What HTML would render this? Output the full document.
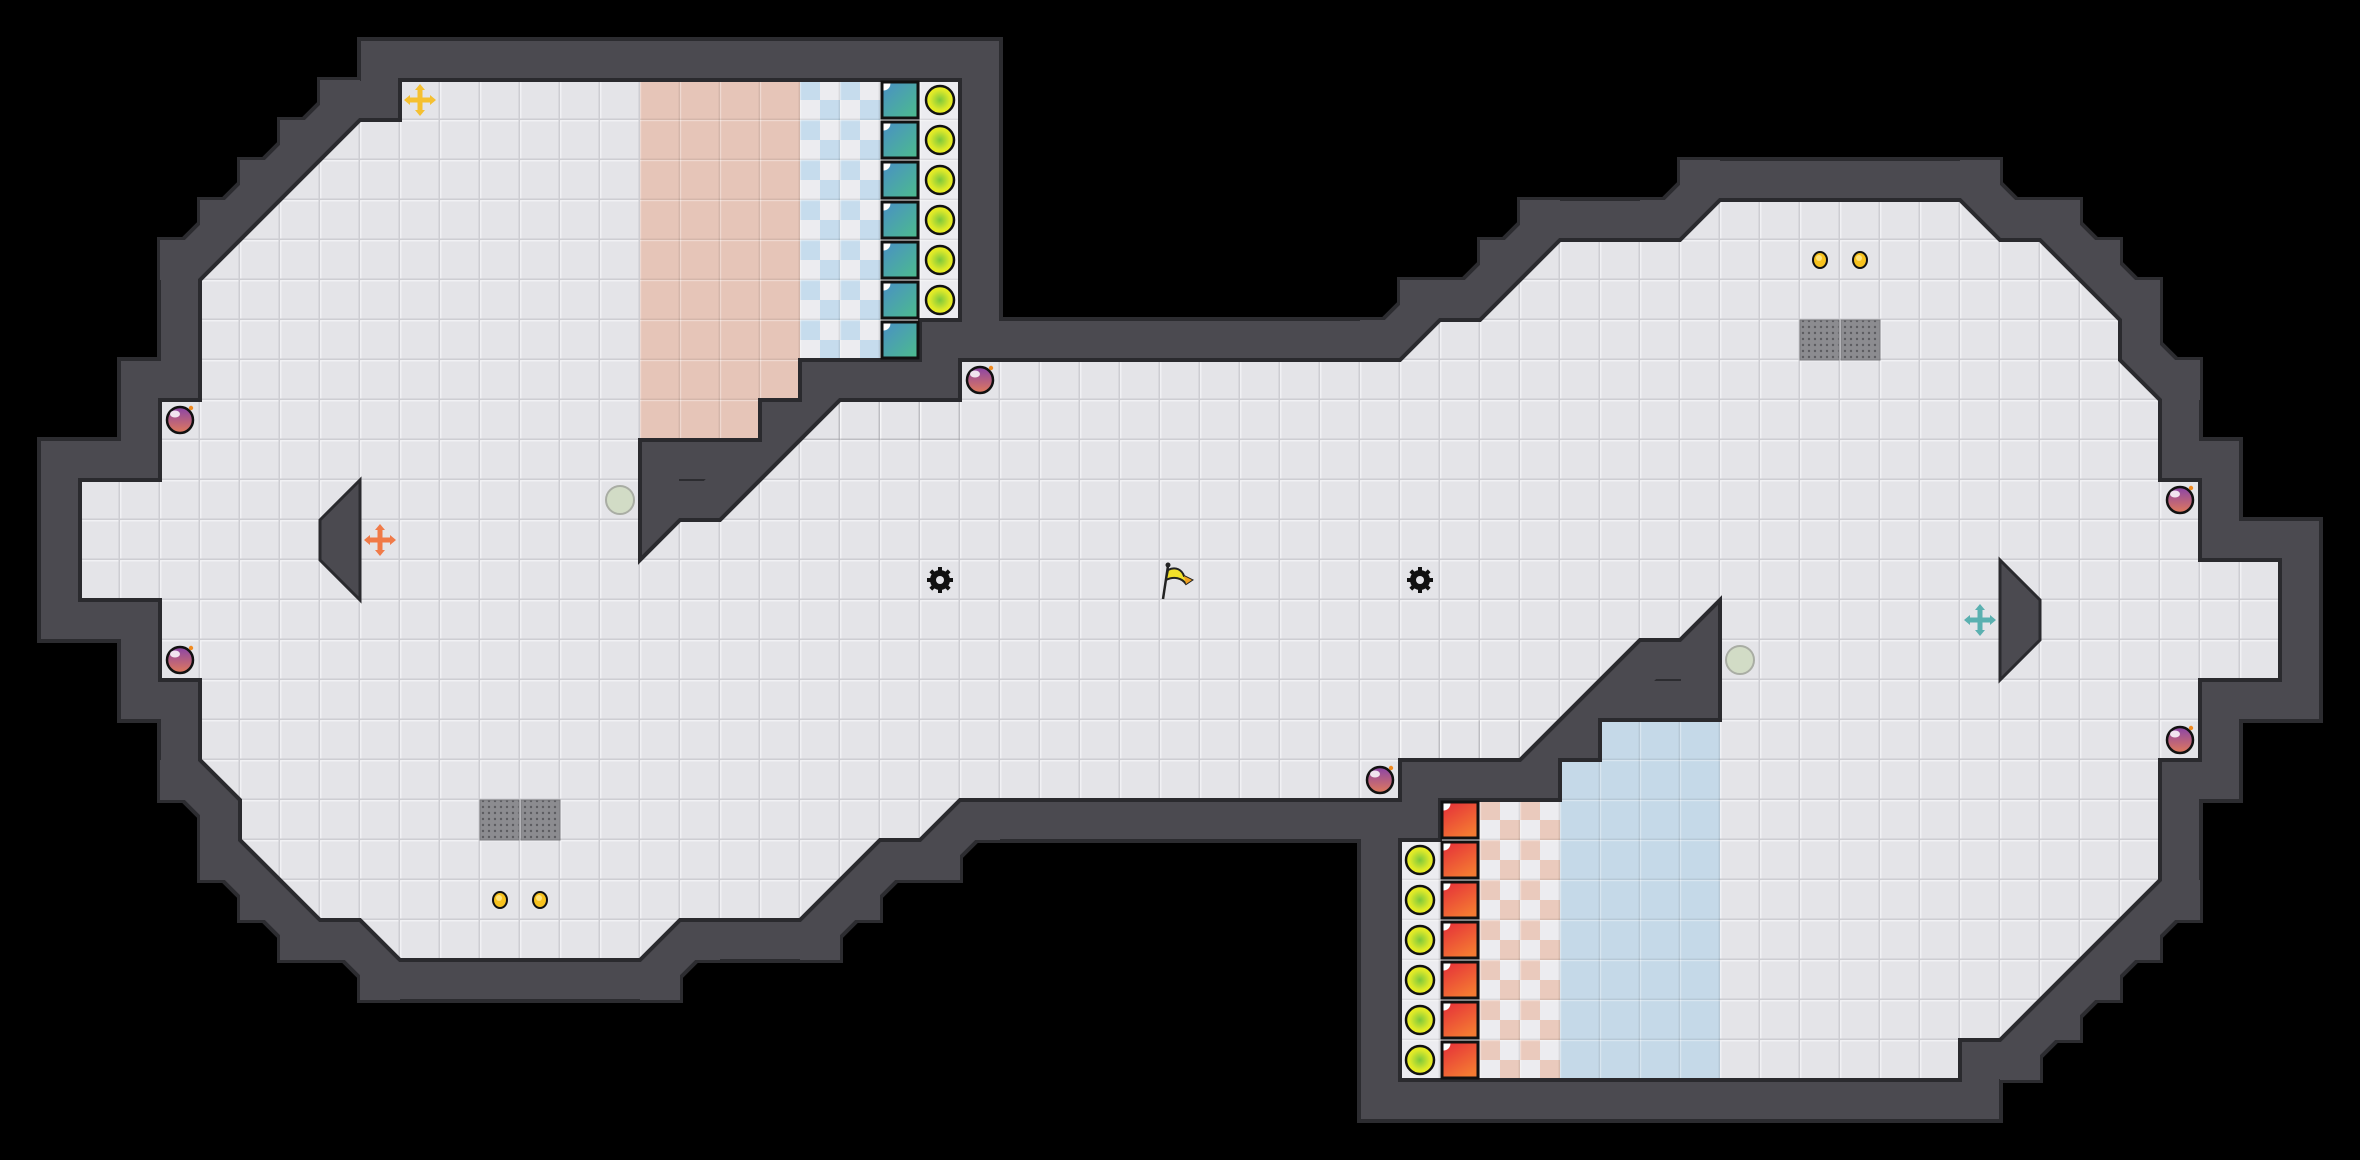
<!DOCTYPE html>
<html><head><meta charset="utf-8"><style>
html,body{margin:0;padding:0;background:#000;}
svg{display:block;}
</style></head><body>
<svg width="2360" height="1160" viewBox="0 0 2360 1160" xmlns="http://www.w3.org/2000/svg">
<defs>
<polygon id="fl" points="400,80 960,80 960,320 920,320 920,360 800,360 800,400 760,400 760,440 640,440 640,560 680,520 720,520 840,400 960,400 960,360 1400,360 1440,320 1480,320 1560,240 1680,240 1720,200 1960,200 2000,240 2040,240 2120,320 2120,360 2160,400 2160,480 2200,480 2200,560 2280,560 2280,680 2200,680 2200,760 2160,760 2160,880 2000,1040 1960,1040 1960,1080 1400,1080 1400,840 1440,840 1440,800 1560,800 1560,760 1600,760 1600,720 1720,720 1720,600 1680,640 1640,640 1520,760 1400,760 1400,800 960,800 920,840 880,840 800,920 680,920 640,960 400,960 360,920 320,920 240,840 240,800 200,760 200,680 160,680 160,600 80,600 80,480 160,480 160,400 200,400 200,280 360,120 400,120"/>
<clipPath id="fc"><use href="#fl"/></clipPath>
<pattern id="tile" width="40" height="40" patternUnits="userSpaceOnUse">
<rect width="40" height="40" fill="#e4e4e8"/>
<rect x="0" y="0" width="40" height="1.5" fill="#f1f1f4"/>
<rect x="0" y="0" width="1.5" height="40" fill="#f1f1f4"/>
<rect x="0" y="38.5" width="40" height="1.5" fill="#cdcdd2"/>
<rect x="38.5" y="0" width="1.5" height="40" fill="#cdcdd2"/>
</pattern>
<pattern id="grid" width="40" height="40" patternUnits="userSpaceOnUse">
<rect x="0" y="0" width="40" height="1.2" fill="#ffffff" opacity="0.35"/>
<rect x="0" y="0" width="1.2" height="40" fill="#ffffff" opacity="0.35"/>
<rect x="0" y="38.6" width="40" height="1.4" fill="#000" opacity="0.08"/>
<rect x="38.6" y="0" width="1.4" height="40" fill="#000" opacity="0.08"/>
</pattern>
<pattern id="chkB" width="40" height="40" patternUnits="userSpaceOnUse">
<rect width="40" height="40" fill="#ececf0"/>
<rect x="0" y="0" width="20" height="20" fill="#c6dced"/>
<rect x="20" y="20" width="20" height="20" fill="#c6dced"/>
</pattern>
<pattern id="chkR" width="40" height="40" patternUnits="userSpaceOnUse">
<rect width="40" height="40" fill="#ececf0"/>
<rect x="0" y="0" width="20" height="20" fill="#eacabd"/>
<rect x="20" y="20" width="20" height="20" fill="#eacabd"/>
</pattern>
<pattern id="grate" width="6" height="6" patternUnits="userSpaceOnUse">
<rect width="6" height="6" fill="#8c8c90"/>
<circle cx="3" cy="3" r="1.2" fill="#5c5c60"/>
</pattern>
<linearGradient id="teal" x1="0" y1="0" x2="1" y2="1">
<stop offset="0" stop-color="#4a8fc6"/><stop offset="1" stop-color="#4cbc8c"/>
</linearGradient>
<linearGradient id="red" x1="0" y1="0" x2="0.6" y2="1">
<stop offset="0" stop-color="#e42c3a"/><stop offset="1" stop-color="#f47a32"/>
</linearGradient>
<radialGradient id="yel">
<stop offset="0" stop-color="#7cc83c"/><stop offset="0.7" stop-color="#dce82a"/><stop offset="1" stop-color="#eef01c"/>
</radialGradient>
<linearGradient id="bomb" x1="0" y1="0" x2="0" y2="1">
<stop offset="0" stop-color="#8a44a8"/><stop offset="1" stop-color="#e07a5a"/>
</linearGradient>
<g id="bm">
<circle r="13" fill="url(#bomb)" stroke="#111" stroke-width="2.5"/>
<ellipse cx="-5" cy="-6" rx="5" ry="3.5" fill="#fff" opacity="0.85"/>
<circle cx="11" cy="-12" r="2.2" fill="#f08a20"/>
</g>
<g id="yc"><circle r="14" fill="url(#yel)" stroke="#111" stroke-width="2.5"/></g>
<g id="ts"><rect x="-18" y="-18" width="36" height="36" fill="url(#teal)" stroke="#111" stroke-width="3"/><path d="M-16.5,-16.5 h7 a7,7 0 0 1 -7,7 z" fill="#fff"/></g>
<g id="rs"><rect x="-18" y="-18" width="36" height="36" fill="url(#red)" stroke="#111" stroke-width="3"/><path d="M-16.5,-16.5 h7 a7,7 0 0 1 -7,7 z" fill="#fff"/></g>
<g id="gear">
<circle r="10" fill="#111"/>
<g stroke="#111" stroke-width="4">
<line x1="0" y1="-13" x2="0" y2="13"/><line x1="-13" y1="0" x2="13" y2="0"/>
<line x1="-9.2" y1="-9.2" x2="9.2" y2="9.2"/><line x1="-9.2" y1="9.2" x2="9.2" y2="-9.2"/>
</g>
<circle r="4" fill="#e4e4e8"/>
</g>
<g id="coin"><ellipse rx="7" ry="8" fill="#f7c21e" stroke="#111" stroke-width="2"/><ellipse cx="-1" cy="-2" rx="3" ry="3" fill="#ffe27a"/></g>
</defs>
<rect width="2360" height="1160" fill="#000"/>
<use href="#fl" fill="none" stroke="#2c2c30" stroke-width="86" stroke-linejoin="miter" stroke-miterlimit="10"/>
<g fill="#2c2c30" transform="translate(-3,-3)">
<rect x="160" y="240" width="46" height="46"/><rect x="200" y="200" width="46" height="46"/><rect x="240" y="160" width="46" height="46"/><rect x="280" y="120" width="46" height="46"/><rect x="320" y="80" width="46" height="46"/>
<rect x="160" y="760" width="46" height="46"/><rect x="200" y="800" width="46" height="46"/><rect x="200" y="840" width="46" height="46"/><rect x="240" y="880" width="46" height="46"/><rect x="280" y="920" width="46" height="46"/><rect x="320" y="920" width="46" height="46"/><rect x="360" y="960" width="46" height="46"/>
<rect x="680" y="920" width="46" height="46"/><rect x="640" y="960" width="46" height="46"/><rect x="840" y="880" width="46" height="46"/><rect x="800" y="920" width="46" height="46"/><rect x="880" y="840" width="46" height="46"/><rect x="960" y="800" width="46" height="46"/><rect x="920" y="840" width="46" height="46"/>
<rect x="1360" y="320" width="46" height="46"/><rect x="1400" y="280" width="46" height="46"/><rect x="1440" y="280" width="46" height="46"/><rect x="1480" y="240" width="46" height="46"/><rect x="1520" y="200" width="46" height="46"/><rect x="1640" y="200" width="46" height="46"/><rect x="1680" y="160" width="46" height="46"/>
<rect x="2000" y="200" width="46" height="46"/><rect x="1960" y="160" width="46" height="46"/><rect x="2080" y="240" width="46" height="46"/><rect x="2040" y="200" width="46" height="46"/><rect x="2120" y="280" width="46" height="46"/><rect x="2160" y="360" width="46" height="46"/><rect x="2120" y="320" width="46" height="46"/>
<rect x="2160" y="880" width="46" height="46"/><rect x="2120" y="920" width="46" height="46"/><rect x="2080" y="960" width="46" height="46"/><rect x="2040" y="1000" width="46" height="46"/><rect x="2000" y="1040" width="46" height="46"/>
</g>
<use href="#fl" fill="none" stroke="#4b4a50" stroke-width="78" stroke-linejoin="miter" stroke-miterlimit="10"/>
<g fill="#4b4a50">
<rect x="160" y="240" width="40" height="40"/><rect x="200" y="200" width="40" height="40"/><rect x="240" y="160" width="40" height="40"/><rect x="280" y="120" width="40" height="40"/><rect x="320" y="80" width="40" height="40"/>
<rect x="160" y="760" width="40" height="40"/><rect x="200" y="800" width="40" height="40"/><rect x="200" y="840" width="40" height="40"/><rect x="240" y="880" width="40" height="40"/><rect x="280" y="920" width="40" height="40"/><rect x="320" y="920" width="40" height="40"/><rect x="360" y="960" width="40" height="40"/>
<rect x="680" y="920" width="40" height="40"/><rect x="640" y="960" width="40" height="40"/><rect x="840" y="880" width="40" height="40"/><rect x="800" y="920" width="40" height="40"/><rect x="880" y="840" width="40" height="40"/><rect x="960" y="800" width="40" height="40"/><rect x="920" y="840" width="40" height="40"/>
<rect x="1360" y="320" width="40" height="40"/><rect x="1400" y="280" width="40" height="40"/><rect x="1440" y="280" width="40" height="40"/><rect x="1480" y="240" width="40" height="40"/><rect x="1520" y="200" width="40" height="40"/><rect x="1640" y="200" width="40" height="40"/><rect x="1680" y="160" width="40" height="40"/>
<rect x="2000" y="200" width="40" height="40"/><rect x="1960" y="160" width="40" height="40"/><rect x="2080" y="240" width="40" height="40"/><rect x="2040" y="200" width="40" height="40"/><rect x="2120" y="280" width="40" height="40"/><rect x="2160" y="360" width="40" height="40"/><rect x="2120" y="320" width="40" height="40"/>
<rect x="2160" y="880" width="40" height="40"/><rect x="2120" y="920" width="40" height="40"/><rect x="2080" y="960" width="40" height="40"/><rect x="2040" y="1000" width="40" height="40"/><rect x="2000" y="1040" width="40" height="40"/>
</g>
<use href="#fl" fill="url(#tile)" stroke="none"/>
<g clip-path="url(#fc)">
<rect x="640" y="80" width="160" height="320" fill="#e6c5b8"/>
<rect x="640" y="400" width="120" height="40" fill="#e6c5b8"/>
<rect x="800" y="80" width="80" height="280" fill="url(#chkB)"/>
<rect x="880" y="80" width="80" height="280" fill="#ececf0"/>
<rect x="640" y="80" width="320" height="360" fill="url(#grid)"/>
<rect x="1480" y="800" width="80" height="280" fill="url(#chkR)"/>
<rect x="1400" y="840" width="80" height="240" fill="#ececf0"/>
<rect x="1440" y="800" width="40" height="40" fill="#ececf0"/>
<rect x="1560" y="760" width="40" height="320" fill="#c5d9e8"/>
<rect x="1600" y="720" width="120" height="360" fill="#c5d9e8"/>
<rect x="1400" y="720" width="320" height="360" fill="url(#grid)"/>
</g>
<use href="#fl" fill="none" stroke="#2a2a2e" stroke-width="4" stroke-linejoin="miter" stroke-miterlimit="10"/>
<polygon points="320,520 360,480 360,600 320,560" fill="#4b4a50" stroke="#2a2a2e" stroke-width="3"/>
<polygon points="2000,560 2040,600 2040,640 2000,680" fill="#4b4a50" stroke="#2a2a2e" stroke-width="3"/>
<use href="#ts" x="900" y="100"/><use href="#ts" x="900" y="140"/><use href="#ts" x="900" y="180"/><use href="#ts" x="900" y="220"/><use href="#ts" x="900" y="260"/><use href="#ts" x="900" y="300"/><use href="#ts" x="900" y="340"/>
<use href="#yc" x="940" y="100"/><use href="#yc" x="940" y="140"/><use href="#yc" x="940" y="180"/><use href="#yc" x="940" y="220"/><use href="#yc" x="940" y="260"/><use href="#yc" x="940" y="300"/>
<use href="#rs" x="1460" y="820"/><use href="#rs" x="1460" y="860"/><use href="#rs" x="1460" y="900"/><use href="#rs" x="1460" y="940"/><use href="#rs" x="1460" y="980"/><use href="#rs" x="1460" y="1020"/><use href="#rs" x="1460" y="1060"/>
<use href="#yc" x="1420" y="860"/><use href="#yc" x="1420" y="900"/><use href="#yc" x="1420" y="940"/><use href="#yc" x="1420" y="980"/><use href="#yc" x="1420" y="1020"/><use href="#yc" x="1420" y="1060"/>
<use href="#bm" x="180" y="420"/><use href="#bm" x="180" y="660"/><use href="#bm" x="980" y="380"/><use href="#bm" x="1380" y="780"/><use href="#bm" x="2180" y="500"/><use href="#bm" x="2180" y="740"/>
<circle cx="620" cy="500" r="14" fill="#d2dcc6" stroke="#a9ada4" stroke-width="2"/>
<circle cx="1740" cy="660" r="14" fill="#d2dcc6" stroke="#a9ada4" stroke-width="2"/>
<use href="#gear" x="940" y="580"/><use href="#gear" x="1420" y="580"/>
<g transform="translate(1180,580)">
<line x1="-17" y1="19" x2="-12" y2="-14" stroke="#222" stroke-width="2.5"/>
<circle cx="-12" cy="-15" r="2.5" fill="#222"/>
<path d="M-12,-10 C-4,-14 2,-10 4,-4 L12,0 L6,4 C2,-2 -6,-4 -14,0 Z" fill="#f2e02a" stroke="#222" stroke-width="2"/>
<path d="M4,-4 L12,0 L6,4 Z" fill="#f0a020"/>
</g>
<rect x="480" y="800" width="39" height="40" fill="url(#grate)" stroke="#77777b"/>
<rect x="521" y="800" width="39" height="40" fill="url(#grate)" stroke="#77777b"/>
<rect x="1800" y="320" width="39" height="40" fill="url(#grate)" stroke="#77777b"/>
<rect x="1841" y="320" width="39" height="40" fill="url(#grate)" stroke="#77777b"/>
<use href="#coin" x="500" y="900"/><use href="#coin" x="540" y="900"/>
<use href="#coin" x="1820" y="260"/><use href="#coin" x="1860" y="260"/>
<g transform="translate(420,100)" fill="#f5c030">
<rect x="-12" y="-2.5" width="24" height="5"/><rect x="-2.5" y="-12" width="5" height="24"/>
<path d="M0,-16 l-5,6 h10z M0,16 l-5,-6 h10z M-16,0 l6,-5 v10z M16,0 l-6,-5 v10z"/>
</g>
<g transform="translate(380,540)" fill="#f07a48">
<rect x="-12" y="-2.5" width="24" height="5"/><rect x="-2.5" y="-12" width="5" height="24"/>
<path d="M0,-16 l-5,6 h10z M0,16 l-5,-6 h10z M-16,0 l6,-5 v10z M16,0 l-6,-5 v10z"/>
</g>
<g transform="translate(1980,620)" fill="#5ab0b0">
<rect x="-12" y="-2.5" width="24" height="5"/><rect x="-2.5" y="-12" width="5" height="24"/>
<path d="M0,-16 l-5,6 h10z M0,16 l-5,-6 h10z M-16,0 l6,-5 v10z M16,0 l-6,-5 v10z"/>
</g>
</svg>
</body></html>
